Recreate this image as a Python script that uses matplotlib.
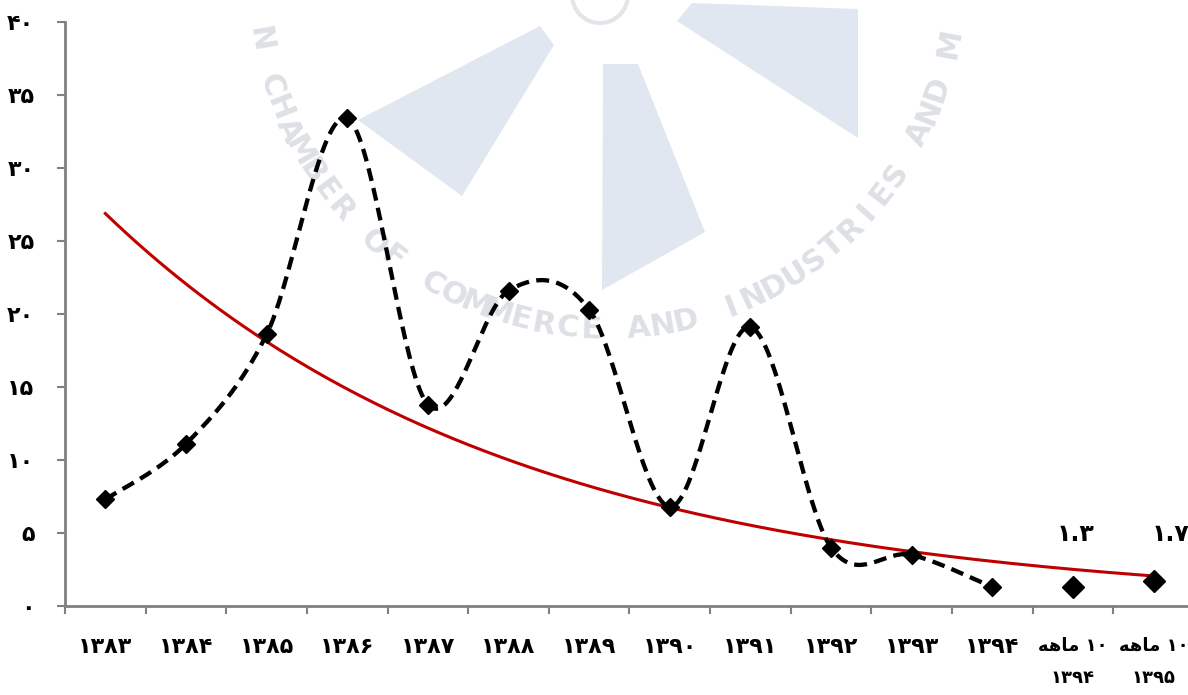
import numpy as np
import matplotlib
matplotlib.use("Agg")
import matplotlib.pyplot as plt
from matplotlib.patches import Polygon, Circle

plt.rcParams['font.family'] = ['DejaVu Sans']

# ---------------- data ----------------
categories = ["۱۳۸۳", "۱۳۸۴", "۱۳۸۵", "۱۳۸۶", "۱۳۸۷", "۱۳۸۸", "۱۳۸۹",
              "۱۳۹۰", "۱۳۹۱", "۱۳۹۲", "۱۳۹۳", "۱۳۹۴",
              "\uFEEA\uFEEB\uFE8E\uFEE3 ۱۰\n۱۳۹۴",
              "\uFEEA\uFEEB\uFE8E\uFEE3 ۱۰\n۱۳۹۵"]
annual_values = [7.3, 11.1, 18.6, 33.4, 13.8, 21.6, 20.3, 6.8, 19.1, 4.0, 3.5, 1.3]
ten_month_values = [1.3, 1.7]
ten_month_labels = ["۱.۳", "۱.۷"]
yticks = [0, 5, 10, 15, 20, 25, 30, 35, 40]
ytick_labels = ["۰", "۵", "۱۰", "۱۵", "۲۰", "۲۵", "۳۰", "۳۵", "۴۰"]

# ---------------- figure ----------------
W, H = 1188, 695
fig = plt.figure(figsize=(W / 100, H / 100), dpi=100)

# watermark layer (pixel coordinates)
bg = fig.add_axes([0, 0, 1, 1], zorder=0)
bg.set_xlim(0, W)
bg.set_ylim(H, 0)
bg.axis("off")
wedge_color = "#E0E7F0"
for poly in [
    [(540, 26), (554, 45), (462, 196), (358, 120)],
    [(603, 64), (638, 64), (705, 232), (602, 290)],
    [(677, 21), (692, 3), (858, 9), (858, 138)],
]:
    bg.add_patch(Polygon(poly, closed=True, facecolor=wedge_color, edgecolor="none"))
bg.add_patch(Circle((600, -5), 28, facecolor="none", edgecolor="#E2E5EA", lw=3))
wm_text = "IRAN CHAMBER OF COMMERCE AND INDUSTRIES AND MINES"
cx, cy, r = 605, -20, 350
start, step = 182.0, 3.9
for i, ch in enumerate(wm_text):
    th = np.deg2rad(start - i * step)
    px = cx + r * np.cos(th)
    py = cy + r * np.sin(th)
    if py < 22:
        continue
    rot = 90 - np.rad2deg(th)
    bg.text(px, py, ch, rotation=rot, ha="center", va="center",
            fontsize=22, fontweight="bold", color="#DDE0E5",
            rotation_mode="anchor")

# main axes
ax = fig.add_axes([65 / W, 1 - 606 / H, (W - 65) / W + 0.005, (606 - 22) / H], zorder=1)
ax.patch.set_alpha(0)

n = len(categories)
x_all = np.arange(n)
x_annual = np.arange(len(annual_values))
x_ten = np.arange(len(annual_values), n)

# smooth (Catmull-Rom) curve through the annual points
px_ = np.array(x_annual, dtype=float)
py_ = np.array(annual_values, dtype=float)
xs, ys = [], []
m = len(px_)
for i in range(m - 1):
    p0 = i - 1 if i > 0 else i
    p3 = i + 2 if i + 2 < m else i + 1
    mx0 = (px_[i + 1] - px_[p0]) / 2
    my0 = (py_[i + 1] - py_[p0]) / 2
    mx1 = (px_[p3] - px_[i]) / 2
    my1 = (py_[p3] - py_[i]) / 2
    t = np.linspace(0, 1, 40)
    h00 = 2 * t**3 - 3 * t**2 + 1
    h10 = t**3 - 2 * t**2 + t
    h01 = -2 * t**3 + 3 * t**2
    h11 = t**3 - t**2
    xs.append(h00 * px_[i] + h10 * mx0 + h01 * px_[i + 1] + h11 * mx1)
    ys.append(h00 * py_[i] + h10 * my0 + h01 * py_[i + 1] + h11 * my1)
xs = np.concatenate(xs)
ys = np.concatenate(ys)

line, = ax.plot(xs, ys, color="black", lw=3.1, zorder=3)
line.set_dashes((3.0, 1.7))
ax.plot(x_annual, annual_values, linestyle="none", marker="D", ms=9,
        color="black", zorder=4)
ax.plot(x_ten, ten_month_values, linestyle="none", marker="D", ms=11,
        color="black", zorder=4)

# exponential trend line over all points
all_vals = np.array(annual_values + ten_month_values)
b, a = np.polyfit(x_all + 1, np.log(all_vals), 1)
xt = np.linspace(0, n - 1, 200)
ax.plot(xt, np.exp(a + b * (xt + 1)), color="#C00000", lw=2.2, zorder=2)

# data labels for the ten-month points
offsets = [(2, 38), (12, 34)]
for xv, yv, lab, off in zip(x_ten, ten_month_values, ten_month_labels, offsets):
    ax.annotate(lab, (xv, yv), xytext=off, textcoords="offset points",
                ha="center", va="center", fontsize=17, fontweight="bold",
                annotation_clip=False, clip_on=False)

# axes styling
ax.set_xlim(-0.5, n - 0.5)
ax.set_ylim(0, 40)
ax.set_yticks(yticks)
ax.set_yticklabels(ytick_labels, fontsize=16, fontweight="bold")
ax.set_xticks(x_all)
ax.set_xticklabels(categories, fontsize=16, fontweight="bold", linespacing=2.0,
                   va="top")
for lbl in ax.get_xticklabels()[len(annual_values):]:
    lbl.set_fontsize(13)
ax.set_xticks(np.arange(-0.5, n, 1), minor=True)
ax.tick_params(axis="x", which="major", length=0, pad=22)
ax.tick_params(axis="x", which="minor", length=6, width=1.5, color="#808080",
               direction="out")
ax.tick_params(axis="y", length=6, width=1.5, color="#808080", pad=16,
               direction="out")
for s in ["top", "right"]:
    ax.spines[s].set_visible(False)
for s in ["left", "bottom"]:
    ax.spines[s].set_color("#808080")
    ax.spines[s].set_linewidth(2)

fig.savefig("out.png", dpi=100)
